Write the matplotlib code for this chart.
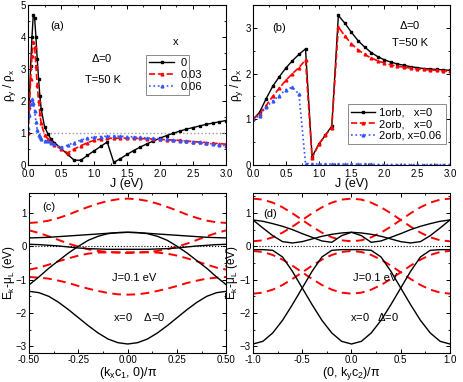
import matplotlib
matplotlib.use('Agg')
import matplotlib.pyplot as plt
import numpy as np

plt.rcParams['font.family'] = ['Liberation Sans', 'DejaVu Sans']
plt.rcParams['mathtext.fontset'] = 'custom'
plt.rcParams['mathtext.rm'] = 'Liberation Sans'
plt.rcParams['mathtext.it'] = 'Liberation Sans'

# ---- panel (a): rho_y/rho_x vs J for three dopings
J_a = [0, 0.02, 0.04, 0.06, 0.08, 0.1, 0.12, 0.14, 0.16, 0.18, 0.2, 0.25, 0.3, 0.35, 0.4,
       0.5, 0.6, 0.7, 0.8, 0.9, 1.0, 1.1, 1.2, 1.3, 1.4, 1.5, 1.6, 1.7, 1.8, 1.9, 2.0,
       2.1, 2.2, 2.3, 2.4, 2.5, 2.6, 2.7, 2.8, 2.9, 3.0]
a_x0 = [1.0, 2.0, 3.1, 4.0, 4.7, 4.6, 4.0, 3.3, 2.7, 2.15, 1.75, 1.2, 0.98, 0.8, 0.7,
        0.52, 0.33, 0.15, 0.15, 0.3, 0.44, 0.58, 0.72, 0.08, 0.2, 0.33, 0.45, 0.56, 0.66, 0.75, 0.84,
        0.92, 0.99, 1.06, 1.12, 1.17, 1.22, 1.27, 1.31, 1.35, 1.39]
a_x003 = [1.0, 1.8, 2.7, 3.4, 3.85, 3.7, 3.1, 2.5, 2.0, 1.6, 1.3, 0.95, 0.82, 0.72, 0.63,
          0.5, 0.38, 0.5, 0.6, 0.7, 0.77, 0.81, 0.83, 0.84, 0.84, 0.84, 0.84, 0.83, 0.82, 0.81, 0.8,
          0.79, 0.78, 0.77, 0.75, 0.73, 0.72, 0.7, 0.68, 0.67, 0.65]
a_x006 = [1.15, 1.55, 1.9, 2.05, 1.95, 1.7, 1.35, 1.1, 0.95, 0.86, 0.8, 0.76, 0.74, 0.7, 0.65,
          0.55, 0.62, 0.7, 0.78, 0.84, 0.87, 0.89, 0.9, 0.9, 0.9, 0.89, 0.88, 0.86, 0.85, 0.83, 0.82,
          0.8, 0.78, 0.76, 0.75, 0.73, 0.71, 0.68, 0.66, 0.63, 0.6]

# ---- panel (b): one- vs two-orbital model
J_b = [0.0, 0.1, 0.2, 0.3, 0.4, 0.5, 0.6, 0.7, 0.8, 0.9, 1.0, 1.1, 1.2, 1.3, 1.4, 1.5,
       1.6, 1.7, 1.8, 1.9, 2.0, 2.1, 2.2, 2.3, 2.4, 2.5, 2.6, 2.7, 2.8, 2.9, 3.0]
b_1orb = [1.0, 1.15, 1.45, 1.72, 1.93, 2.12, 2.28, 2.42, 2.54, 0.18, 0.45, 0.65, 0.85, 3.27, 3.1, 2.9,
          2.72, 2.58, 2.46, 2.37, 2.3, 2.25, 2.21, 2.18, 2.15, 2.13, 2.11, 2.1, 2.09, 2.08, 2.07]
b_2orb = [1.0, 1.12, 1.3, 1.5, 1.68, 1.85, 2.0, 2.13, 2.3, 0.15, 0.45, 0.65, 0.82, 3.02, 2.82, 2.65,
          2.52, 2.42, 2.34, 2.28, 2.23, 2.19, 2.16, 2.14, 2.12, 2.1, 2.09, 2.08, 2.07, 2.06, 2.05]
b_2orb_x006 = [1.0, 1.08, 1.27, 1.4, 1.52, 1.65, 1.7, 1.55, 0.03, 0.03, 0.02, 0.02, 0.02, 0.02, 0.02, 0.02,
               0.02, 0.02, 0.02, 0.01, 0.01, 0.01, 0.01, 0.01, 0.01, 0.01, 0.01, 0.01, 0.01, 0.01, 0.01]

# ---- panel (c): bands along (kx c1, 0)
k_c = [-0.5, -0.45, -0.4, -0.35, -0.3, -0.25, -0.2, -0.15, -0.1, -0.05, 0.0,
       0.05, 0.1, 0.15, 0.2, 0.25, 0.3, 0.35, 0.4, 0.45, 0.5]
c_black = [
    [-1.35, -1.39, -1.50, -1.68, -1.90, -2.14, -2.38, -2.60, -2.78, -2.89, -2.93,
     -2.89, -2.78, -2.60, -2.38, -2.14, -1.90, -1.68, -1.50, -1.39, -1.35],
    [-1.16, -0.92, -0.66, -0.43, -0.20, 0.0, 0.18, 0.30, 0.38, 0.41, 0.42,
     0.41, 0.38, 0.30, 0.18, 0.0, -0.20, -0.43, -0.66, -0.92, -1.16],
    [0.25, 0.26, 0.27, 0.29, 0.31, 0.33, 0.35, 0.37, 0.39, 0.41, 0.42,
     0.41, 0.39, 0.37, 0.35, 0.33, 0.31, 0.29, 0.27, 0.26, 0.25],
    [0.06, 0.05, 0.03, 0.01, -0.02, -0.05, -0.07, -0.08, -0.09, -0.09, -0.09,
     -0.09, -0.09, -0.08, -0.07, -0.05, -0.02, 0.01, 0.03, 0.05, 0.06],
]
c_red = [
    [0.70, 0.72, 0.77, 0.85, 0.95, 1.07, 1.18, 1.28, 1.36, 1.41, 1.43,
     1.41, 1.36, 1.28, 1.18, 1.07, 0.95, 0.85, 0.77, 0.72, 0.70],
    [0.48, 0.40, 0.30, 0.19, 0.08, -0.01, -0.09, -0.14, -0.17, -0.19, -0.20,
     -0.19, -0.17, -0.14, -0.09, -0.01, 0.08, 0.19, 0.30, 0.40, 0.48],
    [-0.70, -0.64, -0.55, -0.45, -0.36, -0.28, -0.22, -0.19, -0.18, -0.18, -0.18,
     -0.18, -0.18, -0.19, -0.22, -0.28, -0.36, -0.45, -0.55, -0.64, -0.70],
    [-0.92, -0.94, -0.97, -1.03, -1.10, -1.19, -1.27, -1.34, -1.40, -1.44, -1.45,
     -1.44, -1.40, -1.34, -1.27, -1.19, -1.10, -1.03, -0.97, -0.94, -0.92],
]

# ---- panel (d): bands along (0, ky c2)
k_d = [-1.0, -0.9, -0.8, -0.7, -0.6, -0.5, -0.4, -0.3, -0.2, -0.1, 0.0,
       0.1, 0.2, 0.3, 0.4, 0.5, 0.6, 0.7, 0.8, 0.9, 1.0]
d_black = [
    [-2.93, -2.85, -2.60, -2.22, -1.75, -1.25, -0.75, -0.32, -0.12, -0.10, -0.10,
     -0.10, -0.12, -0.32, -0.75, -1.25, -1.75, -2.22, -2.60, -2.85, -2.93],
    [-0.10, -0.10, -0.12, -0.32, -0.75, -1.25, -1.75, -2.22, -2.60, -2.85, -2.93,
     -2.85, -2.60, -2.22, -1.75, -1.25, -0.75, -0.32, -0.12, -0.10, -0.10],
    [0.79, 0.55, 0.32, 0.14, 0.10, 0.14, 0.22, 0.30, 0.36, 0.40, 0.42,
     0.40, 0.36, 0.30, 0.22, 0.14, 0.10, 0.14, 0.32, 0.55, 0.79],
    [0.79, 0.75, 0.68, 0.60, 0.50, 0.38, 0.27, 0.16, 0.12, 0.32, 0.42,
     0.32, 0.12, 0.16, 0.27, 0.38, 0.50, 0.60, 0.68, 0.75, 0.79],
]
d_red = [
    [0.15, 0.18, 0.27, 0.41, 0.59, 0.79, 0.99, 1.17, 1.31, 1.40, 1.43,
     1.40, 1.31, 1.17, 0.99, 0.79, 0.59, 0.41, 0.27, 0.18, 0.15],
    [1.43, 1.40, 1.31, 1.17, 0.99, 0.79, 0.59, 0.41, 0.27, 0.18, 0.15,
     0.18, 0.27, 0.41, 0.59, 0.79, 0.99, 1.17, 1.31, 1.40, 1.43],
    [-1.42, -1.39, -1.30, -1.16, -0.98, -0.78, -0.58, -0.40, -0.26, -0.17, -0.14,
     -0.17, -0.26, -0.40, -0.58, -0.78, -0.98, -1.16, -1.30, -1.39, -1.42],
    [-0.14, -0.17, -0.26, -0.40, -0.58, -0.78, -0.98, -1.16, -1.30, -1.39, -1.42,
     -1.39, -1.30, -1.16, -0.98, -0.78, -0.58, -0.40, -0.26, -0.17, -0.14],
]

fig = plt.figure(figsize=(4.63, 3.82), dpi=100)
ax_a = fig.add_axes([0.0605, 0.568, 0.4276, 0.419])
ax_b = fig.add_axes([0.5464, 0.568, 0.4255, 0.419])
ax_c = fig.add_axes([0.0626, 0.0759, 0.4266, 0.419])
ax_d = fig.add_axes([0.5464, 0.0759, 0.4255, 0.419])

for ax in (ax_a, ax_b, ax_c, ax_d):
    ax.tick_params(direction='in', which='both', top=True, right=True, labelsize=7, pad=1.5)
    ax.tick_params(which='major', length=3, width=0.7)
    ax.tick_params(which='minor', length=1.5, width=0.6)
    for s in ax.spines.values():
        s.set_linewidth(0.8)
for ax in (ax_a, ax_b):
    ax.tick_params(axis='x', pad=3)

txt = dict(fontsize=8, ha='left', va='bottom')

# (a)
ax_a.axhline(1, color='#999999', ls=':', lw=1)
ax_a.plot(J_a, a_x0, '-', color='black', lw=1, marker='s', ms=1.8, label='0')
ax_a.plot(J_a, a_x003, '--', color='red', lw=1.2, marker='^', ms=2, label='0.03')
ax_a.plot(J_a, a_x006, ':', color='#3355ff', lw=1.2, marker='^', ms=2, label='0.06')
ax_a.set_xlim(0, 3)
ax_a.set_ylim(0, 5)
ax_a.set_xticks(np.arange(0, 3.01, 0.5))
ax_a.set_xticks(np.arange(0, 3.01, 0.25), minor=True)
ax_a.set_yticks(range(0, 6))
ax_a.set_yticks(np.arange(0, 5.01, 0.5), minor=True)
ax_a.set_xlabel('J (eV)', fontsize=9, labelpad=-1)
ax_a.set_ylabel(r'$\rho_y$ / $\rho_x$', fontsize=8.5)
ax_a.yaxis.set_label_coords(-0.05, 0.5)
leg = ax_a.legend(loc='lower left', bbox_to_anchor=(0.596, 0.4375, 0.217, 0.2825), mode='expand',
                  borderaxespad=0, fontsize=8, frameon=True, fancybox=False, edgecolor='#555555',
                  handlelength=2.2, borderpad=0.3, labelspacing=0.15, handletextpad=0.6)
leg.get_frame().set_linewidth(0.6)
ax_a.text(0.73, 0.74, 'x', transform=ax_a.transAxes, **txt)
ax_a.text(0.11, 0.84, '(a)', transform=ax_a.transAxes, **txt)
ax_a.text(0.32, 0.63, r'$\Delta$=0', transform=ax_a.transAxes, **txt)
ax_a.text(0.29, 0.50, 'T=50 K', transform=ax_a.transAxes, **txt)

# (b)
ax_b.plot(J_b, b_1orb, '-', color='black', lw=1, marker='s', ms=1.8, label='1orb,   x=0')
ax_b.plot(J_b, b_2orb, '--', color='red', lw=1.2, marker='^', ms=2, label='2orb,   x=0')
ax_b.plot(J_b, b_2orb_x006, ':', color='#3355ff', lw=1.2, marker='^', ms=2, label='2orb, x=0.06')
ax_b.set_xlim(0, 3)
ax_b.set_ylim(0, 3.5)
ax_b.set_xticks(np.arange(0, 3.01, 0.5))
ax_b.set_xticks(np.arange(0, 3.01, 0.25), minor=True)
ax_b.set_yticks(range(0, 4))
ax_b.set_yticks(np.arange(0, 3.51, 0.5), minor=True)
ax_b.set_xlabel('J (eV)', fontsize=9, labelpad=-1)
ax_b.set_ylabel(r'$\rho_y$ / $\rho_x$', fontsize=8.5)
ax_b.yaxis.set_label_coords(-0.04, 0.5)
leg = ax_b.legend(loc='lower left', bbox_to_anchor=(0.48, 0.13, 0.5, 0.31), mode='expand',
                  borderaxespad=0, fontsize=8, frameon=True, fancybox=False, edgecolor='#555555',
                  handlelength=2.2, borderpad=0.3, labelspacing=0.15, handletextpad=0.3)
leg.get_frame().set_linewidth(0.6)
ax_b.text(0.096, 0.825, '(b)', transform=ax_b.transAxes, **txt)
ax_b.text(0.74, 0.84, r'$\Delta$=0', transform=ax_b.transAxes, **txt)
ax_b.text(0.706, 0.73, 'T=50 K', transform=ax_b.transAxes, **txt)

# (c)
ax_c.axhline(0, color='black', ls=':', lw=0.8)
for band in c_red:
    ax_c.plot(k_c, band, color='red', lw=1.4, dashes=(4.5, 2.8))
for band in c_black:
    ax_c.plot(k_c, band, color='black', lw=1)
ax_c.set_xlim(-0.5, 0.5)
ax_c.set_ylim(-3.2, 1.6)
ax_c.set_xticks([-0.5, -0.25, 0, 0.25, 0.5])
ax_c.set_xticklabels(['-0.50', '-0.25', '0.00', '0.25', '0.50'])
ax_c.set_xticks(np.arange(-0.5, 0.51, 0.125), minor=True)
ax_c.set_yticks([-3, -2, -1, 0, 1])
ax_c.set_yticks(np.arange(-3, 1.51, 0.5), minor=True)
ax_c.set_xlabel(r'(k$_x$c$_1$, 0)/π', fontsize=9, labelpad=0)
ax_c.set_ylabel(r'E$_k$-μ$_L$ (eV)', fontsize=8.5)
ax_c.yaxis.set_label_coords(-0.06, 0.5)
ax_c.text(0.066, 0.88, '(c)', transform=ax_c.transAxes, **txt)
ax_c.text(0.42, 0.44, 'J=0.1 eV', transform=ax_c.transAxes, **txt)
ax_c.text(0.425, 0.19, r'x=0    $\Delta$=0', transform=ax_c.transAxes, **txt)

# (d)
ax_d.axhline(0, color='black', ls=':', lw=0.8)
for band in d_red:
    ax_d.plot(k_d, band, color='red', lw=1.4, dashes=(4.5, 2.8))
for band in d_black:
    ax_d.plot(k_d, band, color='black', lw=1)
ax_d.set_xlim(-1, 1)
ax_d.set_ylim(-3.2, 1.6)
ax_d.set_xticks([-1, -0.5, 0, 0.5, 1])
ax_d.set_xticklabels(['-1.0', '-0.5', '0.0', '0.5', '1.0'])
ax_d.set_xticks(np.arange(-1, 1.01, 0.25), minor=True)
ax_d.set_yticks([-3, -2, -1, 0, 1])
ax_d.set_yticks(np.arange(-3, 1.51, 0.5), minor=True)
ax_d.set_xlabel(r'(0, k$_y$c$_2$)/π', fontsize=9, labelpad=0)
ax_d.set_ylabel(r'E$_k$-μ$_L$ (eV)', fontsize=8.5)
ax_d.yaxis.set_label_coords(-0.068, 0.5)
ax_d.text(0.05, 0.84, '(d)', transform=ax_d.transAxes, **txt)
ax_d.text(0.51, 0.44, 'J=0.1 eV', transform=ax_d.transAxes, **txt)
ax_d.text(0.49, 0.19, r'x=0   $\Delta$=0', transform=ax_d.transAxes, **txt)

fig.savefig('out.png', dpi=100)
